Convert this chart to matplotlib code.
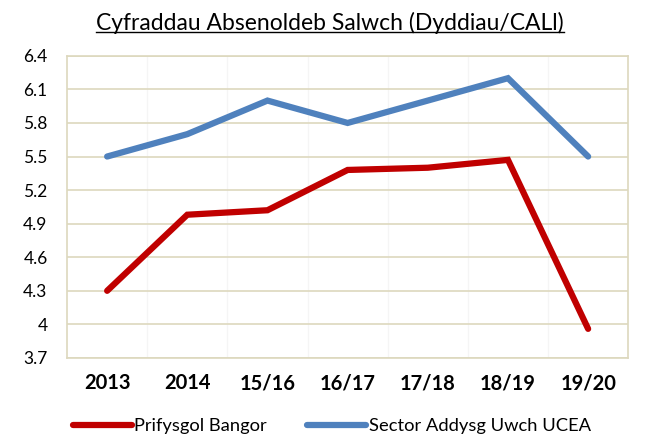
import matplotlib
matplotlib.use("Agg")
import matplotlib.pyplot as plt
from matplotlib.lines import Line2D

categories = ["2013", "2014", "15/16", "16/17", "17/18", "18/19", "19/20"]
bangor = [4.30, 4.98, 5.02, 5.38, 5.40, 5.47, 3.96]
sector = [5.5, 5.7, 6.0, 5.8, 6.0, 6.2, 5.5]
yticks = [3.7, 4.0, 4.3, 4.6, 4.9, 5.2, 5.5, 5.8, 6.1, 6.4]
ylabels = ["3.7", "4", "4.3", "4.6", "4.9", "5.2", "5.5", "5.8", "6.1", "6.4"]

plt.rcParams["font.family"] = ["Lato", "DejaVu Sans"]

fig = plt.figure(figsize=(6.51, 4.36), dpi=100)
ax = fig.add_axes([0.103, 0.179, 0.862, 0.693])

x = list(range(len(categories)))
ax.plot(x, bangor, color="#C00000", lw=4.5, solid_capstyle="round", solid_joinstyle="miter",
        label="Prifysgol Bangor", zorder=3)
ax.plot(x, sector, color="#4F81BD", lw=4.5, solid_capstyle="round", solid_joinstyle="miter",
        label="Sector Addysg Uwch UCEA", zorder=3)

ax.set_xlim(-0.5, len(categories) - 0.5)
ax.set_ylim(3.7, 6.4)
ax.set_yticks(yticks)
ax.set_yticklabels(ylabels, fontsize=12.5)
ax.set_xticks(x)
ax.set_xticklabels(categories, fontsize=14.5, fontweight="bold")
ax.tick_params(length=0)
ax.tick_params(axis="y", pad=14)
ax.tick_params(axis="x", pad=11)

ax.grid(axis="y", color="#DDD8BE", lw=1.2, zorder=0)
for b in range(1, len(categories)):
    ax.axvline(b - 0.5, color="#F5F5F5", lw=1, zorder=0)
for s in ax.spines.values():
    s.set_color("#DDD8BE")
    s.set_linewidth(1.2)

fig.legend(loc="center", bbox_to_anchor=(0.51, 0.022), ncol=2, frameon=False,
           fontsize=13.2, handlelength=3.2, columnspacing=2.2, handletextpad=0.15)

t = fig.text(0.507, 0.948, "Cyfraddau Absenoldeb Salwch (Dyddiau/CALl)", ha="center",
             va="center", fontsize=16.5)
fig.canvas.draw()
bb = t.get_window_extent().transformed(fig.transFigure.inverted())
fig.add_artist(Line2D([bb.x0, bb.x1], [bb.y0 + 0.004, bb.y0 + 0.004], color="black", lw=1,
                      transform=fig.transFigure))

fig.savefig("out.png", dpi=100)
